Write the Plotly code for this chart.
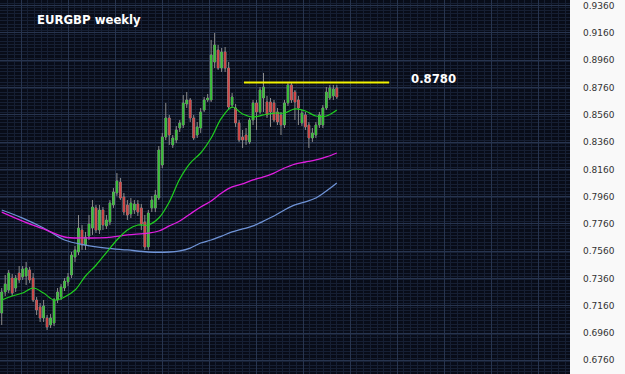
import plotly.graph_objects as go

# ---- data (weekly EURGBP candles, index = week number) ----
opens = [0.7107, 0.7261, 0.7275, 0.7363, 0.7290, 0.7400, 0.7371, 0.7378, 0.7422, 0.7363,
         0.7202, 0.7151, 0.7070, 0.7070, 0.7019, 0.7033, 0.7202, 0.7224, 0.7290, 0.7334,
         0.7385, 0.7517, 0.7554, 0.7715, 0.7605, 0.7671, 0.7730, 0.7877, 0.7715, 0.7862,
         0.7745, 0.7774, 0.7899, 0.7987, 0.8067, 0.7957, 0.7899, 0.7833, 0.7862, 0.7906,
         0.7877, 0.7774, 0.7591, 0.7877, 0.7877, 0.7950, 0.8192, 0.8397, 0.8537, 0.8339,
         0.8375, 0.8463, 0.8485, 0.8639, 0.8669, 0.8537, 0.8412, 0.8463, 0.8595, 0.8669,
         0.8669, 0.8947, 0.9035, 0.8903, 0.9021, 0.8903, 0.8632, 0.8610, 0.8500, 0.8397,
         0.8412, 0.8361, 0.8522, 0.8647, 0.8581, 0.8683, 0.8654, 0.8654, 0.8647, 0.8581,
         0.8559, 0.8485, 0.8647, 0.8779, 0.8727, 0.8669, 0.8500, 0.8559, 0.8485, 0.8390,
         0.8412, 0.8485, 0.8485, 0.8610, 0.8683, 0.8698, 0.8757]
highs = [0.7290, 0.7385, 0.7422, 0.7393, 0.7385, 0.7451, 0.7451, 0.7481, 0.7444, 0.7400,
         0.7224, 0.7180, 0.7202, 0.7092, 0.7099, 0.7217, 0.7290, 0.7319, 0.7363, 0.7400,
         0.7554, 0.7598, 0.7825, 0.7752, 0.7701, 0.7825, 0.7935, 0.7899, 0.7899, 0.7884,
         0.7825, 0.7935, 0.8023, 0.8133, 0.8097, 0.7987, 0.7935, 0.7950, 0.7935, 0.7935,
         0.7906, 0.7825, 0.7862, 0.7965, 0.8009, 0.8331, 0.8427, 0.8647, 0.8559, 0.8412,
         0.8478, 0.8522, 0.8705, 0.8727, 0.8683, 0.8559, 0.8507, 0.8610, 0.8691, 0.8713,
         0.9109, 0.9160, 0.9072, 0.9050, 0.9057, 0.8947, 0.8720, 0.8639, 0.8522, 0.8449,
         0.8463, 0.8537, 0.8669, 0.8669, 0.8764, 0.8867, 0.8698, 0.8683, 0.8669, 0.8610,
         0.8581, 0.8669, 0.8801, 0.8793, 0.8742, 0.8698, 0.8595, 0.8581, 0.8507, 0.8463,
         0.8507, 0.8581, 0.8632, 0.8764, 0.8779, 0.8779, 0.8779]
lows = [0.7019, 0.7231, 0.7253, 0.7231, 0.7261, 0.7327, 0.7349, 0.7312, 0.7327, 0.7187,
        0.7092, 0.7041, 0.7041, 0.6982, 0.6997, 0.7011, 0.7180, 0.7202, 0.7268, 0.7305,
        0.7363, 0.7481, 0.7532, 0.7569, 0.7569, 0.7642, 0.7679, 0.7693, 0.7686, 0.7715,
        0.7723, 0.7752, 0.7877, 0.7965, 0.7935, 0.7825, 0.7789, 0.7803, 0.7833, 0.7818,
        0.7715, 0.7569, 0.7569, 0.7847, 0.7847, 0.7935, 0.8170, 0.8375, 0.8339, 0.8317,
        0.8353, 0.8434, 0.8463, 0.8610, 0.8507, 0.8375, 0.8390, 0.8427, 0.8581, 0.8654,
        0.8654, 0.8903, 0.8889, 0.8874, 0.8874, 0.8595, 0.8610, 0.8471, 0.8361, 0.8317,
        0.8339, 0.8346, 0.8485, 0.8449, 0.8566, 0.8581, 0.8537, 0.8471, 0.8507, 0.8485,
        0.8412, 0.8463, 0.8625, 0.8647, 0.8522, 0.8485, 0.8478, 0.8449, 0.8317, 0.8361,
        0.8390, 0.8463, 0.8463, 0.8595, 0.8669, 0.8669, 0.8676]
closes = [0.7261, 0.7319, 0.7400, 0.7253, 0.7363, 0.7349, 0.7429, 0.7437, 0.7349, 0.7202,
          0.7129, 0.7070, 0.7158, 0.7004, 0.7070, 0.7202, 0.7261, 0.7297, 0.7341, 0.7371,
          0.7532, 0.7569, 0.7730, 0.7605, 0.7664, 0.7759, 0.7884, 0.7715, 0.7862, 0.7752,
          0.7789, 0.7913, 0.7994, 0.8075, 0.7950, 0.7847, 0.7825, 0.7913, 0.7906, 0.7847,
          0.7759, 0.7591, 0.7840, 0.7935, 0.7972, 0.8302, 0.8397, 0.8537, 0.8412, 0.8390,
          0.8449, 0.8500, 0.8647, 0.8669, 0.8537, 0.8390, 0.8471, 0.8581, 0.8669, 0.8683,
          0.8999, 0.9072, 0.8903, 0.9021, 0.8903, 0.8617, 0.8691, 0.8500, 0.8375, 0.8375,
          0.8375, 0.8522, 0.8647, 0.8581, 0.8742, 0.8764, 0.8559, 0.8581, 0.8522, 0.8507,
          0.8485, 0.8647, 0.8779, 0.8669, 0.8654, 0.8610, 0.8573, 0.8471, 0.8390, 0.8427,
          0.8485, 0.8559, 0.8610, 0.8727, 0.8757, 0.8749, 0.8691]
weeks = list(range(len(closes)))

# moving averages (sampled every few weeks)
ma_weeks = [0, 3, 6, 9, 12, 15, 18, 21, 24, 27, 30, 33, 36, 39, 42, 45, 48, 51, 54, 57,
            60, 63, 66, 69, 72, 75, 78, 81, 84, 87, 90, 93, 96]
ma_fast = [0.7202, 0.7231, 0.7253, 0.7290, 0.7253, 0.7202, 0.7224, 0.7275, 0.7378, 0.7457,
           0.7550, 0.7642, 0.7715, 0.7752, 0.7752, 0.7803, 0.7921, 0.8089, 0.8206, 0.8280,
           0.8390, 0.8537, 0.8617, 0.8566, 0.8544, 0.8559, 0.8573, 0.8573, 0.8603, 0.8588,
           0.8551, 0.8551, 0.8595]
ma_mid_weeks = [0, 6, 12, 18, 24, 30, 36, 42, 45, 48, 51, 54, 57, 60, 63, 66, 69, 72, 75,
                78, 81, 84, 87, 90, 93, 96]
ma_mid = [0.7847, 0.7781, 0.7723, 0.7664, 0.7657, 0.7660, 0.7679, 0.7693, 0.7708, 0.7745,
          0.7781, 0.7833, 0.7884, 0.7928, 0.7987, 0.8031, 0.8053, 0.8082, 0.8104, 0.8133,
          0.8170, 0.8199, 0.8214, 0.8229, 0.8251, 0.8280]
ma_slow_weeks = [0, 6, 12, 18, 24, 30, 36, 42, 48, 51, 54, 57, 60, 63, 66, 69, 72, 75, 78,
                 81, 84, 87, 90, 93, 96]
ma_slow = [0.7862, 0.7803, 0.7730, 0.7642, 0.7605, 0.7583, 0.7569, 0.7554, 0.7554, 0.7562,
           0.7583, 0.7620, 0.7642, 0.7671, 0.7701, 0.7723, 0.7745, 0.7781, 0.7818, 0.7862,
           0.7899, 0.7921, 0.7950, 0.8001, 0.8060]

level_text = "0.8780"
level_line = 0.8797
level_weeks = [69.4, 111.0]
level_label_week = 116.7
title_text = "EURGBP weekly"

BG = "#080c18"
NARROW = "DejaVu Sans Condensed, Liberation Sans Narrow, Roboto, sans-serif"

fig = go.Figure()
# wicks (grey) + grey body underlay
fig.add_trace(go.Candlestick(
    x=weeks, open=opens, high=highs, low=lows, close=closes,
    increasing=dict(fillcolor="#8c8c8c", line=dict(color="#8c8c8c", width=1)),
    decreasing=dict(fillcolor="#8c8c8c", line=dict(color="#8c8c8c", width=1)),
    whiskerwidth=0, showlegend=False, hoverinfo="skip"))
# coloured bodies
fig.add_trace(go.Candlestick(
    x=weeks, open=opens, high=highs, low=lows, close=closes,
    increasing=dict(fillcolor="#34c234", line=dict(color="rgba(0,0,0,0)", width=0)),
    decreasing=dict(fillcolor="#d24444", line=dict(color="rgba(0,0,0,0)", width=0)),
    whiskerwidth=0, showlegend=False, hoverinfo="skip"))
fig.add_trace(go.Scatter(x=ma_slow_weeks, y=ma_slow, mode="lines", line=dict(color="#6f93d6", width=1.3, shape="spline"), showlegend=False))
fig.add_trace(go.Scatter(x=ma_mid_weeks, y=ma_mid, mode="lines", line=dict(color="#e01ee0", width=1.3, shape="spline"), showlegend=False))
fig.add_trace(go.Scatter(x=ma_weeks, y=ma_fast, mode="lines", line=dict(color="#1fd01f", width=1.2, shape="spline"), showlegend=False))
fig.add_trace(go.Scatter(x=level_weeks, y=[level_line, level_line], mode="lines", line=dict(color="#f2f200", width=2), showlegend=False))

fig.add_annotation(x=level_label_week, y=level_line, text="<b>%s</b>" % level_text, showarrow=False,
                   xanchor="left", yanchor="middle", yshift=4,
                   font=dict(family=NARROW, size=13, color="white"))
fig.add_annotation(x=35 / 570, y=1 - 20 / 374, xref="paper", yref="paper", text="<b>%s</b>" % title_text,
                   showarrow=False, xanchor="left", yanchor="middle",
                   font=dict(family=NARROW, size=13, color="white"))

fig.update_layout(
    width=625, height=374,
    margin=dict(l=0, r=55, t=0, b=0),
    paper_bgcolor="#f9f9f9", plot_bgcolor=BG,
    boxgap=0.25,
    xaxis=dict(range=[-0.49, 162.8], showticklabels=False, rangeslider=dict(visible=False),
               showgrid=True, gridcolor="#27344e", gridwidth=1, tick0=5.53, dtick=13.47,
               minor=dict(showgrid=True, gridcolor="#161f33", dtick=13.47 / 7, tick0=5.53),
               zeroline=False, showline=False, ticks=""),
    yaxis=dict(range=[0.66594, 0.94018], side="right", tick0=0.676, dtick=0.02, tickformat=".4f",
               showgrid=True, gridcolor="#27344e", gridwidth=1,
               minor=dict(showgrid=True, gridcolor="#161f33", dtick=0.0025),
               tickfont=dict(family="DejaVu Sans", size=9, color="#333333"),
               ticks="", ticklabelstandoff=12, zeroline=False, showline=False),
    showlegend=False,
)

fig.write_html("out.html")
